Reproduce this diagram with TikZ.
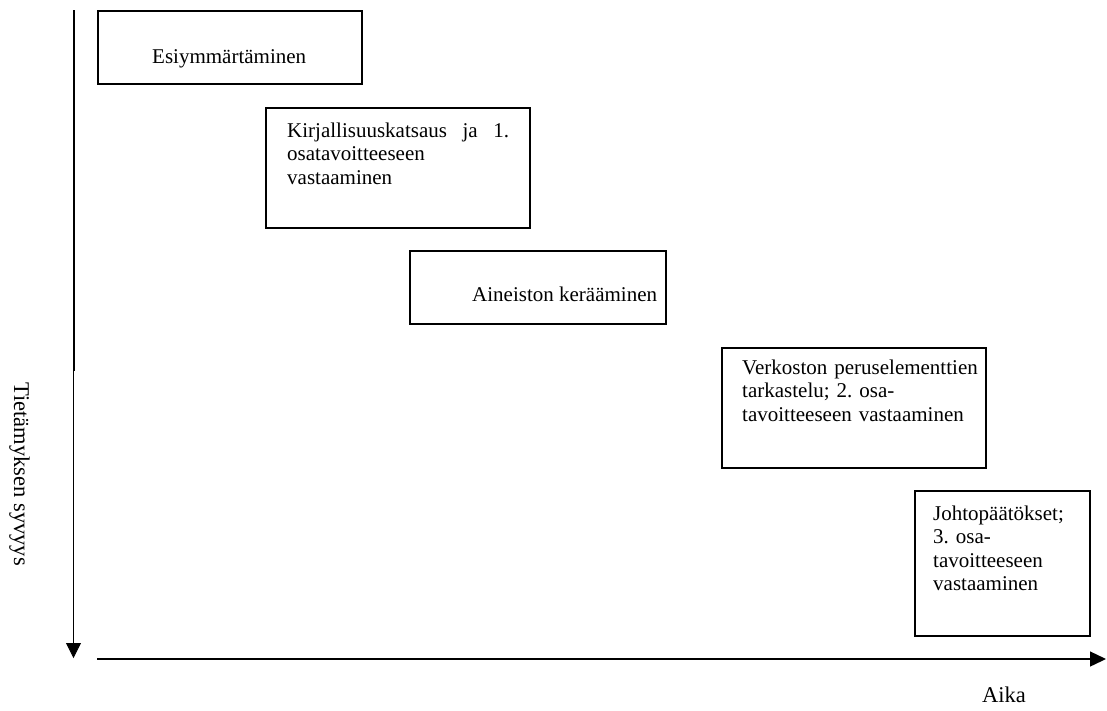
\documentclass[tikz,border=0pt]{standalone}
\usepackage{fontspec}
\setmainfont{Liberation Serif}
\usetikzlibrary{arrows.meta}
\frenchspacing
\tikzset{
  box/.style={draw=black, line width=1.6pt, anchor=north west, inner sep=0pt},
  boxtext/.style={font=\fontsize{21}{23.5}\selectfont, inner sep=0pt, anchor=base west, align=left},
  axislabel/.style={font=\fontsize{22.5}{27}\selectfont, inner sep=0pt, anchor=base west},
  tipstyle/.style={-{Triangle[length=15pt,width=15pt]}}
}
\begin{document}
\begin{tikzpicture}[x=1pt,y=-1pt]
\useasboundingbox (0,0) rectangle (1107,710);
% boxes
\node[box, minimum width=264pt, minimum height=73pt] (b1) at (97,10) {};
\node[box, minimum width=264pt, minimum height=120pt] (b2) at (265,107) {};
\node[box, minimum width=256pt, minimum height=73pt] (b3) at (409,250) {};
\node[box, minimum width=264pt, minimum height=120pt] (b4) at (721,347) {};
\node[box, minimum width=175pt, minimum height=145pt] (b5) at (914,490) {};
% texts
\node[boxtext] (t1) at (152,63) {Esiymmärtäminen};
\node[boxtext, text width=222pt] (t2) at (287,137) {\hbox to 222pt{Kirjallisuuskatsaus\hfill ja\hfill 1.}\\osatavoitteeseen\\vastaaminen};
\node[boxtext] (t3) at (472,301) {Aineiston kerääminen};
\node[boxtext, text width=240pt] (t4) at (742,374) {Verkoston peruselementtien\\tarkastelu; 2. osa-\\tavoitteeseen vastaaminen};
\node[boxtext, text width=150pt] (t5) at (933,520) {Johtopäätökset;\\3. osa-\\tavoitteeseen\\vastaaminen};
% axes
\coordinate (ytop) at (73.5,10);
\coordinate (ymid) at (73.5,371);
\coordinate (ybot) at (73.5,658);
\coordinate (xleft) at (97,659);
\coordinate (xright) at (1106,659);
\draw[line width=2pt] (ytop) -- (ymid);
\draw[line width=0.8pt, tipstyle] (ymid) -- (ybot);
\draw[line width=1.3pt, -{Triangle[length=16pt,width=15pt]}] (xleft) -- (xright);
% axis labels
\node[axislabel, rotate=-90] (ylab) at (14,382) {Tietämyksen syvyys};
\node[axislabel] (xlab) at (982,702) {Aika};
\end{tikzpicture}
\end{document}
